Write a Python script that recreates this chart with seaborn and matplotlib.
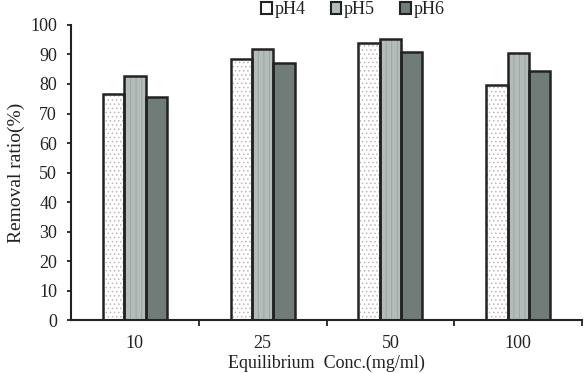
import matplotlib
matplotlib.use("Agg")
import matplotlib.pyplot as plt
import seaborn as sns
import pandas as pd
from matplotlib.patches import Rectangle, Patch

concs = ["10", "25", "50", "100"]
ph4 = [76.5, 88.5, 93.8, 79.5]
ph5 = [82.8, 91.8, 95.3, 90.4]
ph6 = [75.6, 87.0, 91.0, 84.3]
series = ["pH4", "pH5", "pH6"]
colors = ["#ffffff", "#b4bcba", "#707c78"]
hatches = ["....", "|||", ""]
hatch_cols = ["#b8b8b8", "#9aa39f", "#707c78"]
edge = "#222222"

sns.set_style("ticks")
plt.rcParams["font.family"] = ["Liberation Serif", "DejaVu Serif"]
plt.rcParams["hatch.linewidth"] = 0.6

df = pd.DataFrame({
    "conc": concs * 3,
    "val": ph4 + ph5 + ph6,
    "ph": [s for s in series for _ in concs],
})

fig = plt.figure(figsize=(5.88, 3.73), dpi=100)
ax = fig.add_axes([0.1207, 0.142, 0.8693, 0.791])
sns.barplot(data=df, x="conc", y="val", hue="ph", order=concs, hue_order=series,
            palette=colors, width=0.5, gap=0, ax=ax, legend=False, errorbar=None,
            saturation=1)

for i, cont in enumerate(ax.containers):
    for p in cont.patches:
        p.set_hatch(hatches[i])
        p.set_edgecolor(hatch_cols[i])
        p.set_linewidth(0)
        ax.add_patch(Rectangle((p.get_x(), p.get_y()), p.get_width(), p.get_height(),
                               facecolor="none", edgecolor=edge, linewidth=1.8, zorder=3))

ax.set_ylim(0, 100)
ax.set_xlim(-0.5, len(concs) - 0.5)
ax.set_yticks(range(0, 101, 10))
ax.set_xticks(range(len(concs)))
ax.set_xticklabels(concs)
ax.tick_params(axis="x", which="major", length=0, pad=11, labelsize=13, labelcolor="#222222")
ax.set_xticks([i + 0.5 for i in range(len(concs))], minor=True)
ax.tick_params(axis="x", which="minor", length=4.5, width=1.3, direction="out", color="#222222")
ax.tick_params(axis="y", length=3, width=1.3, direction="out", labelsize=13, color="#222222",
               labelcolor="#222222", pad=7)

for s in ["top", "right"]:
    ax.spines[s].set_visible(False)
for s in ["left", "bottom"]:
    ax.spines[s].set_linewidth(1.5)
    ax.spines[s].set_color("#222222")

ax.set_xlabel("Equilibrium  Conc.(mg/ml)", fontsize=13, labelpad=2, color="#222222")
ax.set_ylabel("Removal ratio(%)", fontsize=14, labelpad=4, color="#222222")

handles = [Patch(facecolor=colors[i], edgecolor=edge, hatch="", linewidth=1.5, label=series[i])
           for i in range(3)]
fig.legend(handles=handles, loc="upper center", bbox_to_anchor=(0.6, 1.04), ncol=3,
           frameon=False, fontsize=13, handlelength=0.6, handleheight=0.6,
           handletextpad=0.15, columnspacing=1.4, labelcolor="#222222")

fig.savefig("out.png", dpi=100)
